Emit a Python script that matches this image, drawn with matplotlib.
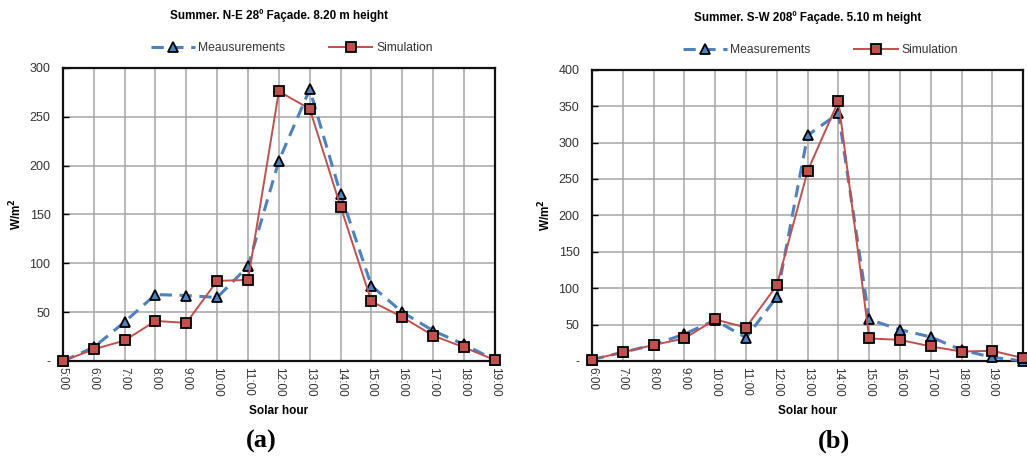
import numpy as np
import matplotlib
matplotlib.use('Agg')
import matplotlib.pyplot as plt

plt.rcParams['font.family'] = ['Liberation Sans', 'DejaVu Sans']

BLUE = '#4F81BD'
RED = '#C0504D'

# (a) N-E facade, 5:00 - 19:00
hours_a = list(range(5, 20))
meas_a = [0, 14, 40, 68, 67, 65, 97, 205, 278, 171, 77, 50, 31, 17, 1]
sim_a = [0, 12, 21, 41, 39, 82, 83, 276, 258, 158, 61, 45, 26, 14, 1]

# (b) S-W facade, 6:00 - 20:00
hours_b = list(range(6, 21))
meas_b = [2, 12, 22, 37, 56, 32, 88, 310, 340, 57, 43, 33, 15, 5, 0]
sim_b = [2, 12, 22, 31, 57, 46, 104, 261, 357, 31, 29, 20, 13, 14, 4]


def fmt_y(v):
    return '-' if v == 0 else f'{int(v)}'


def draw(ax, hours, meas, sim, ymax, title, meas_label, labeled_hours, legend_x):
    ax.plot(hours, meas, color=BLUE, lw=2.2, ls=(0, (4, 2.5)), marker='^',
            ms=7, mfc=BLUE, mec='black', mew=1.3, label=meas_label, zorder=3)
    ax.plot(hours, sim, color=RED, lw=1.4, marker='s', ms=7.5,
            mfc=RED, mec='black', mew=1.3, label='Simulation', zorder=4)
    ax.set_xlim(hours[0], hours[-1])
    ax.set_ylim(0, ymax)
    ax.set_xticks(hours)
    ax.set_xticklabels([f'{h}:00' if h in labeled_hours else '' for h in hours],
                       rotation=-90, fontsize=8.5, color='#333333')
    yt = np.arange(0, ymax + 1, 50)
    ax.set_yticks(yt)
    ax.set_yticklabels([fmt_y(v) for v in yt], fontsize=9, color='#333333')
    ax.tick_params(axis='x', length=0, pad=4)
    ax.tick_params(axis='y', direction='in', length=4, width=1, pad=9)
    ax.grid(True, color='#a6a6a6', lw=1.1)
    ax.set_axisbelow(True)
    for s in ax.spines.values():
        s.set_linewidth(1.6)
        s.set_color('#111111')
    ax.set_title(title, fontsize=8.4, fontweight='bold', pad=35)
    ax.set_xlabel('Solar hour', fontsize=8.5, fontweight='bold', labelpad=6)
    ax.set_ylabel('W/m$^{\\mathbf{2}}$', fontsize=8.5, fontweight='bold')
    ax.yaxis.set_label_coords(-0.09, 0.5)
    ax.legend(loc='lower center', bbox_to_anchor=(legend_x, 1.01), ncol=2,
              frameon=False, fontsize=8.7, handlelength=3.6, columnspacing=3.6,
              handletextpad=0.3, labelcolor='#333333')
    for line in ax.get_lines():
        line.set_clip_on(False)


fig = plt.figure(figsize=(10.27, 4.62), dpi=100)
ax_a = fig.add_axes([0.0613, 0.2186, 0.4205, 0.6345])
ax_b = fig.add_axes([0.5764, 0.2186, 0.4200, 0.6305])

draw(ax_a, hours_a, meas_a, sim_a, 300,
     'Summer. N-E 28º Façade. 8.20 m height', 'Meausurements',
     hours_a, 0.53)
draw(ax_b, hours_b, meas_b, sim_b, 400,
     'Summer. S-W 208º Façade. 5.10 m height', 'Measurements',
     hours_b[:-1], 0.53)

fig.text(0.254, 0.045, '(a)', family=['Liberation Serif'], fontsize=19,
         fontweight='bold', ha='center', va='center')
fig.text(0.812, 0.045, '(b)', family=['Liberation Serif'], fontsize=19,
         fontweight='bold', ha='center', va='center')

fig.savefig('out.png', dpi=100)
